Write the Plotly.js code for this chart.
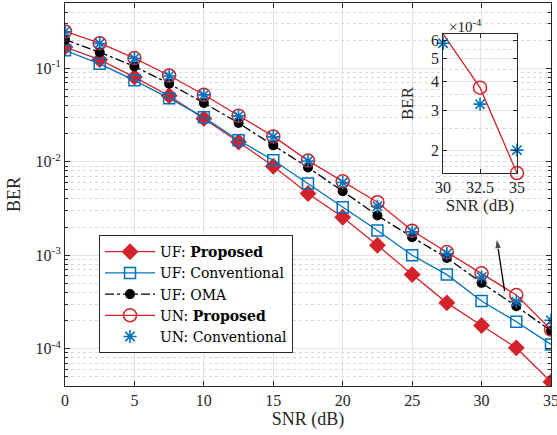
<!DOCTYPE html>
<html>
<head>
<meta charset="utf-8">
<script src="https://cdn.plot.ly/plotly-3.0.1.min.js"></script>
<style>html,body{margin:0;padding:0;background:#fff;}#chart{width:557px;height:435px;}</style>
</head>
<body>
<div id="chart"></div>
<script>
// ---- data ----
const snr = [0, 2.5, 5, 7.5, 10, 12.5, 15, 17.5, 20, 22.5, 25, 27.5, 30, 32.5, 35];
const ufProposed = [0.169, 0.124, 0.0807, 0.051, 0.029, 0.0163, 0.00895, 0.00457, 0.00255, 0.00128, 0.00062, 0.000309, 0.000177, 0.000102, 0.000044];
const ufConventional = [0.156, 0.112, 0.0745, 0.048, 0.0299, 0.017, 0.0104, 0.00585, 0.00326, 0.00184, 0.0010, 0.00062, 0.000323, 0.000194, 0.000111];
const ufOMA = [0.203, 0.149, 0.105, 0.0686, 0.0426, 0.026, 0.015, 0.0087, 0.00484, 0.00266, 0.00156, 0.000935, 0.000506, 0.000285, 0.000155];
const unProposed = [0.249, 0.186, 0.129, 0.084, 0.0522, 0.0312, 0.0187, 0.0103, 0.00618, 0.00369, 0.00183, 0.00108, 0.00064, 0.000375, 0.00016];
const unConventional = [0.247, 0.185, 0.128, 0.083, 0.052, 0.031, 0.0185, 0.0102, 0.0060, 0.00334, 0.00178, 0.00104, 0.000584, 0.000318, 0.000201];

const seriesNames = ['UF: <b>Proposed</b>', 'UF: Conventional', 'UF: OMA', 'UN: <b>Proposed</b>', 'UN: Conventional'];
const yTickVals = [1e-4, 1e-3, 1e-2, 1e-1];
const yTickText = ['10<sup>-4</sup>', '10<sup>-3</sup>', '10<sup>-2</sup>', '10<sup>-1</sup>'];
const xTickVals = [0, 5, 10, 15, 20, 25, 30, 35];
const insetSnr = [30, 32.5, 35];
const insetXTicks = [30, 32.5, 35];
const insetXText = ['30', '32.5', '35'];
const insetYTicks = [2e-4, 3e-4, 4e-4, 5e-4, 6e-4];
const insetYText = ['2', '3', '4', '5', '6'];
// pointer arrow (tail -> head) in data units
const arrowX = [31.66, 31.08];
const arrowY = [4.12e-4, 1.52e-3];

// ---- styles ----
const RED = '#D3222A';
const BLUE = '#0072BD';
const FONT = 'Liberation Serif, Times New Roman, serif';
const LFONT = 'DejaVu Serif, serif';
const AX = '#262626';

const insetIdx = insetSnr.map(v => snr.indexOf(v));

const traces = [
  {x: snr, y: ufProposed, name: seriesNames[0], mode: 'lines+markers',
   line: {color: RED, width: 1.3}, marker: {symbol: 'diamond', size: 13, color: RED}},
  {x: snr, y: ufConventional, name: seriesNames[1], mode: 'lines+markers',
   line: {color: BLUE, width: 1.3}, marker: {symbol: 'square-open', size: 11, color: BLUE, line: {width: 1.5}}},
  {x: snr, y: ufOMA, name: seriesNames[2], mode: 'lines+markers',
   line: {color: 'black', width: 1.3, dash: 'dashdot'}, marker: {symbol: 'circle', size: 10, color: 'black'}},
  {x: snr, y: unProposed, name: seriesNames[3], mode: 'lines+markers',
   line: {color: RED, width: 1.3}, marker: {symbol: 'circle-open', size: 13, color: RED, line: {width: 1.5}}},
  {x: snr, y: unConventional, name: seriesNames[4], mode: 'markers',
   marker: {symbol: 'asterisk-open', size: 11, color: BLUE, line: {width: 1.6, color: BLUE}}},
  // inset
  {x: insetSnr, y: insetIdx.map(i => unProposed[i]), xaxis: 'x2', yaxis: 'y2', mode: 'lines+markers',
   showlegend: false, cliponaxis: false,
   line: {color: RED, width: 1.3}, marker: {symbol: 'circle-open', size: 13, color: RED, line: {width: 1.5}}},
  {x: insetSnr, y: insetIdx.map(i => unConventional[i]), xaxis: 'x2', yaxis: 'y2', mode: 'markers',
   showlegend: false, cliponaxis: false,
   marker: {symbol: 'asterisk-open', size: 11, color: BLUE, line: {width: 1.6, color: BLUE}}},
  // pointer arrow towards the inset
  {x: arrowX, y: arrowY, mode: 'lines+markers', showlegend: false,
   line: {color: 'black', width: 1.3},
   marker: {symbol: 'arrow', angleref: 'previous', size: [0, 11], color: 'black'}}
];

const layout = {
  width: 557, height: 435,
  margin: {l: 65, r: 6, t: 3, b: 49},
  paper_bgcolor: 'white', plot_bgcolor: 'white',
  font: {family: FONT, size: 16, color: '#262626'},
  showlegend: true,
  legend: {x: 0.07, y: 0.394, xanchor: 'left', yanchor: 'top', itemwidth: 50,
    bgcolor: 'white', bordercolor: AX, borderwidth: 1,
    font: {family: LFONT, size: 14, color: 'black'}, tracegroupgap: 0},
  xaxis: {range: [0, 35], tickvals: xTickVals, ticks: 'inside', ticklen: 5, tickcolor: AX,
    showline: true, linecolor: AX, linewidth: 1, mirror: 'ticks', ticklabeloverflow: 'allow',
    showgrid: true, gridcolor: '#e3e3e3', gridwidth: 1, zeroline: false,
    tickfont: {size: 16, color: '#262626'},
    title: {text: 'SNR (dB)', font: {size: 18, color: '#262626'}, standoff: 4}},
  yaxis: {type: 'log', range: [-4.4, -0.3], tickvals: yTickVals, ticktext: yTickText,
    ticks: 'inside', ticklen: 5, tickcolor: AX,
    showline: true, linecolor: AX, linewidth: 1, mirror: 'ticks',
    showgrid: true, gridcolor: '#e3e3e3', gridwidth: 1, zeroline: false,
    tickfont: {size: 16, color: '#262626'},
    minor: {dtick: 'D1', ticks: 'inside', ticklen: 3, tickcolor: AX, showgrid: true, gridcolor: '#d8d8d8', griddash: 'dot', gridwidth: 1},
    title: {text: 'BER', font: {size: 18, color: '#262626'}, standoff: 10}},
  xaxis2: {domain: [0.778, 0.930], anchor: 'y2', range: [30, 35], tickvals: insetXTicks, ticktext: insetXText,
    ticks: 'inside', ticklen: 4, tickcolor: AX, showline: true, linecolor: AX, linewidth: 1, mirror: 'ticks',
    showgrid: true, gridcolor: '#e3e3e3', zeroline: false, ticklabeloverflow: 'allow',
    tickfont: {size: 16, color: '#262626'},
    title: {text: 'SNR (dB)', font: {size: 17, color: '#262626'}, standoff: 2}},
  yaxis2: {domain: [0.556, 0.919], anchor: 'x2', type: 'log', range: [Math.log10(1.6e-4), Math.log10(6.4e-4)],
    tickvals: insetYTicks, ticktext: insetYText,
    ticks: 'inside', ticklen: 4, tickcolor: AX, showline: true, linecolor: AX, linewidth: 1, mirror: 'ticks',
    showgrid: true, gridcolor: '#e3e3e3', zeroline: false,
    tickfont: {size: 16, color: '#262626'},
    minor: {tickvals: [1.7e-4, 1.8e-4, 1.9e-4, 2.5e-4, 3.5e-4, 4.5e-4, 5.5e-4], ticks: '', showgrid: true, gridcolor: '#d8d8d8', griddash: 'dot'},
    title: {text: 'BER', font: {size: 17, color: '#262626'}, standoff: 12}},
  annotations: [
    {xref: 'paper', yref: 'paper', x: 0.785, y: 0.94, xanchor: 'left', yanchor: 'middle',
     text: '×10<sup>-4</sup>', showarrow: false, font: {size: 15, color: '#262626'}}
  ]
};

Plotly.newPlot('chart', traces, layout, {displayModeBar: false, staticPlot: true});
</script>
</body>
</html>
